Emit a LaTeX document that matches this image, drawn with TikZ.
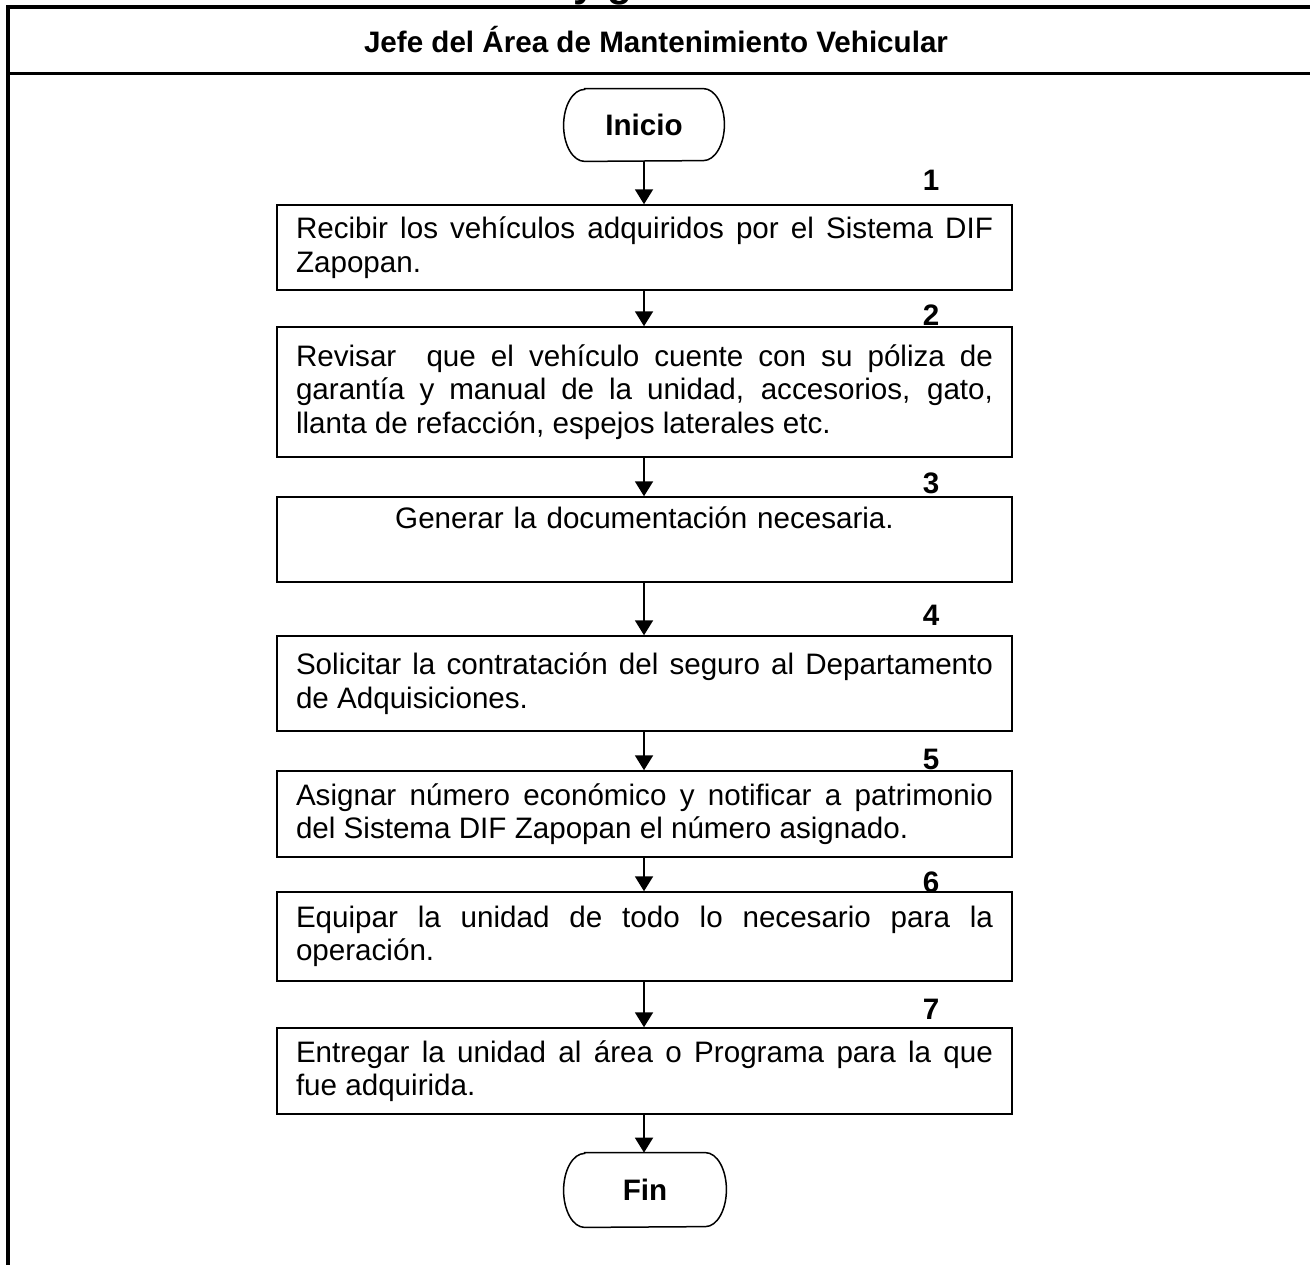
\documentclass[tikz,border=0pt]{standalone}
\usepackage{fontspec}
\setmainfont{Liberation Sans}
\usetikzlibrary{arrows.meta}
\begin{document}
\hyphenpenalty=10000\relax
\exhyphenpenalty=10000\relax
\begin{tikzpicture}[x=0.5pt,y=-0.5pt,
  bodyfont/.style={font=\fontsize{14.8}{16.75}\selectfont},
  stepbox/.style={bodyfont, draw, line width=0.75pt, rectangle, text width=348.5pt, inner xsep=9.5pt, inner ysep=0pt, align=justify},
  centerbox/.style={stepbox, align=center},
  termnode/.style={rectangle, inner sep=0pt, font=\bfseries\fontsize{14.8}{16.75}\selectfont},
  term/.style={line width=0.75pt},
  numlabel/.style={inner sep=0pt, font=\bfseries\fontsize{14.8}{16.75}\selectfont},
  arr/.style={line width=1pt, -{Triangle[width=9pt,length=7.5pt]}},
  frame/.style={line width=2pt, line join=miter}
]
\useasboundingbox (0,0) rectangle (1310,1264);
\clip (0,0) rectangle (1310,1264);

% cut-off title fragment
\node[anchor=base, inner sep=0pt, font=\bfseries\fontsize{20.3}{24}\selectfont] (title) at (603,-3.5) {y g};

% frame
\draw[frame] (8,1275) -- (8,7) -- (1320,7);
\draw[line width=1.5pt] (8,73) -- (1320,73);
\node[numlabel] (header) at (656,40) {Jefe del Área de Mantenimiento Vehicular};

% terminals
\node[termnode, minimum width=80pt, minimum height=36pt] (inicio) at (644,125) {Inicio};
\draw[term] ([xshift=10.5pt]inicio.north west) -- ([xshift=-10.5pt]inicio.north east)
  arc[start angle=90, end angle=-90, x radius=10.5pt, y radius=18pt]
  -- ([xshift=10.5pt]inicio.south west)
  arc[start angle=270, end angle=90, x radius=10.5pt, y radius=18pt] -- cycle;

\node[termnode, minimum width=81pt, minimum height=37pt] (fin) at (645,1190) {Fin};
\draw[term] ([xshift=10.5pt]fin.north west) -- ([xshift=-10.5pt]fin.north east)
  arc[start angle=90, end angle=-90, x radius=10.5pt, y radius=18.5pt]
  -- ([xshift=10.5pt]fin.south west)
  arc[start angle=270, end angle=90, x radius=10.5pt, y radius=18.5pt] -- cycle;

% steps
\node[stepbox, minimum height=42.5pt] (b1) at (644.5,247.5)
  {Recibir los vehículos adquiridos por el Sistema DIF\linebreak Zapopan.};
\node[stepbox, minimum height=65pt] (b2) at (644.5,392)
  {Revisar\ \ que el vehículo cuente con su póliza de\linebreak garantía y manual de la unidad, accesorios, gato,\linebreak llanta de refacción, espejos laterales etc.};
\node[centerbox, minimum height=42.5pt] (b3) at (644.5,539.5)
  {Generar la documentación necesaria.\\\strut};
\node[stepbox, minimum height=47.5pt] (b4) at (644.5,683.5)
  {Solicitar la contratación del seguro al Departamento\linebreak de Adquisiciones.};
\node[stepbox, minimum height=43pt] (b5) at (644.5,814)
  {Asignar número económico y notificar a patrimonio\linebreak del Sistema DIF Zapopan el número asignado.};
\node[stepbox, minimum height=44.5pt] (b6) at (644.5,936.5)
  {Equipar la unidad de todo lo necesario para la\linebreak operación.};
\node[stepbox, minimum height=43pt] (b7) at (644.5,1071)
  {Entregar la unidad al área o Programa para la que\linebreak fue adquirida.};

% numbers
\node[numlabel] (n1) at (931,180) {1};
\node[numlabel] (n2) at (931,315) {2};
\node[numlabel] (n3) at (931,483) {3};
\node[numlabel] (n4) at (931,615) {4};
\node[numlabel] (n5) at (931,759) {5};
\node[numlabel] (n6) at (931,882) {6};
\node[numlabel] (n7) at (931,1009) {7};

% connectors
\draw[arr] (inicio.south) -- (inicio.south |- b1.north);
\draw[arr] (inicio.south |- b1.south) -- (inicio.south |- b2.north);
\draw[arr] (inicio.south |- b2.south) -- (inicio.south |- b3.north);
\draw[arr] (inicio.south |- b3.south) -- (inicio.south |- b4.north);
\draw[arr] (inicio.south |- b4.south) -- (inicio.south |- b5.north);
\draw[arr] (inicio.south |- b5.south) -- (inicio.south |- b6.north);
\draw[arr] (inicio.south |- b6.south) -- (inicio.south |- b7.north);
\draw[arr] (inicio.south |- b7.south) -- (inicio.south |- fin.north);
\end{tikzpicture}
\end{document}
